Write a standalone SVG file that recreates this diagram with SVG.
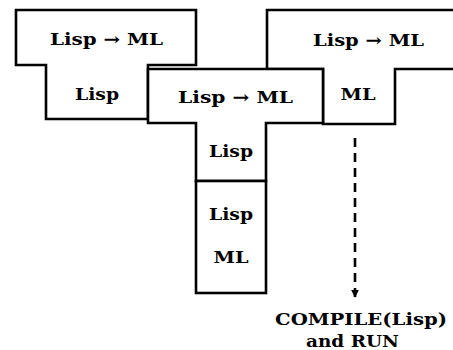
<svg xmlns="http://www.w3.org/2000/svg" width="453" height="350" viewBox="0 0 453 350">
  <style>
    .box { fill: #fff; stroke: #000; stroke-width: 2.6; stroke-linejoin: miter; }
    .lbl { font-family: "DejaVu Serif", "Liberation Serif", serif; font-weight: bold; font-size: 17px; fill: #000; text-anchor: middle; }
    .cap { font-family: "DejaVu Serif", "Liberation Serif", serif; font-weight: bold; font-size: 17px; fill: #000; text-anchor: middle; }
    .dash { stroke: #000; stroke-width: 2.6; stroke-dasharray: 9 6; fill: none; }
  </style>
  <defs>
    <marker id="tip" viewBox="0 0 10 10" refX="9" refY="5" markerWidth="3" markerHeight="3" orient="auto">
      <path d="M0,0 L10,5 L0,10 Z" fill="#000"/>
    </marker>
  </defs>

  <!-- compiler Lisp -> ML written in Lisp -->
  <g id="t-left">
    <path class="box" d="M16,10 H196 V65 H148 V119 H46 V65 H16 Z"/>
    <text class="lbl" x="106.5" y="45" textLength="113" lengthAdjust="spacingAndGlyphs">Lisp → ML</text>
    <text class="lbl" x="97" y="100" textLength="44" lengthAdjust="spacingAndGlyphs">Lisp</text>
  </g>

  <!-- compiler Lisp -> ML written in ML (output) -->
  <g id="t-right">
    <path class="box" d="M267,10 H470 V69 H395 V124 H323 V69 H267 Z"/>
    <text class="lbl" x="368.5" y="45.5" textLength="111" lengthAdjust="spacingAndGlyphs">Lisp → ML</text>
    <text class="lbl" x="358" y="100" textLength="35" lengthAdjust="spacingAndGlyphs">ML</text>
  </g>

  <!-- compiler being translated -->
  <g id="t-mid">
    <path class="box" d="M148,69 H323 V123 H266 V181 H196 V123 H148 Z"/>
    <text class="lbl" x="235.5" y="103" textLength="115" lengthAdjust="spacingAndGlyphs">Lisp → ML</text>
    <text class="lbl" x="231" y="157" textLength="44" lengthAdjust="spacingAndGlyphs">Lisp</text>
  </g>

  <!-- Lisp interpreter on ML -->
  <g id="interp">
    <rect class="box" x="196" y="181" width="70" height="112"/>
    <text class="lbl" x="231" y="220" textLength="44" lengthAdjust="spacingAndGlyphs">Lisp</text>
    <text class="lbl" x="231" y="263" textLength="35" lengthAdjust="spacingAndGlyphs">ML</text>
  </g>

  <g id="connectors">
    <line class="dash" x1="355" y1="138" x2="355" y2="297" marker-end="url(#tip)"/>
  </g>

  <g id="result">
    <text class="cap" x="361" y="325" textLength="172" lengthAdjust="spacingAndGlyphs">COMPILE(Lisp)</text>
    <text class="cap" x="352.5" y="347" textLength="93" lengthAdjust="spacingAndGlyphs">and RUN</text>
  </g>
</svg>
